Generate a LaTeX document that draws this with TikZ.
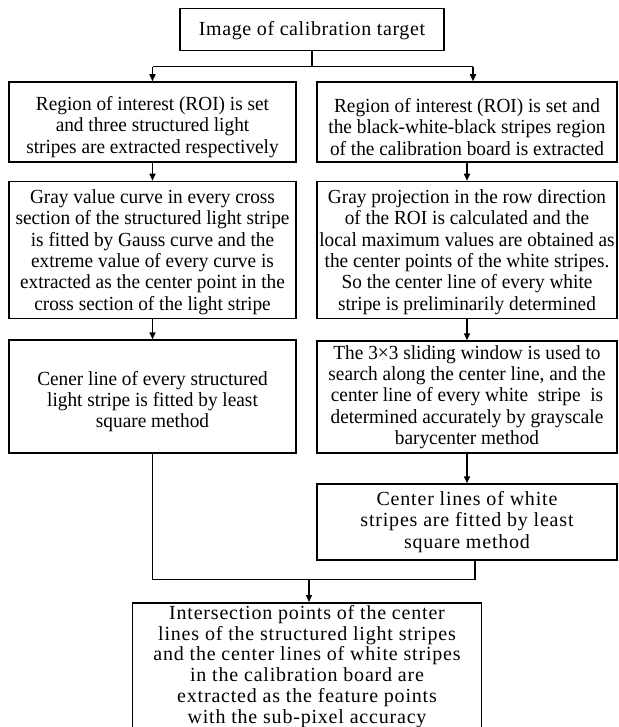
\documentclass[tikz,border=0pt]{standalone}
\usepackage{fontspec}
\setmainfont{Liberation Serif}
\usetikzlibrary{arrows.meta}
\newcommand\myfs{\fontsize{20}{21.3}\selectfont}
\newcommand\myfsb{\fontsize{20}{20.8}\selectfont}
\tikzset{
  frame/.style={draw, line width=1.5pt, inner sep=0pt},
  txt/.style={inner sep=0pt, align=center, font=\myfs\addfontfeatures{FakeStretch=0.965}},
  spaced/.style={inner sep=0pt, align=center, font=\myfs\addfontfeatures{LetterSpace=4}},
  conn/.style={line width=1.5pt},
  arr/.style={line width=1.5pt, -{Triangle[length=7pt,width=6pt]}},
}
\begin{document}
\begin{tikzpicture}[x=1pt,y=-1pt]
\useasboundingbox (0,0) rectangle (618,727);

% frames
\node[frame, minimum width=264pt, minimum height=42.4pt] (top) at (312,29.5) {};
\node[frame, minimum width=287pt, minimum height=80pt] (L1) at (152.5,122) {};
\node[frame, minimum width=300pt, minimum height=80pt] (R1) at (467,122) {};
\node[frame, minimum width=287pt, minimum height=137pt] (L2) at (152.5,250) {};
\node[frame, minimum width=300pt, minimum height=137pt] (R2) at (467,250) {};
\node[frame, minimum width=287pt, minimum height=113pt] (L3) at (152.5,396.5) {};
\node[frame, minimum width=300pt, minimum height=112pt] (R3) at (467,397) {};
\node[frame, minimum width=300pt, minimum height=76pt] (R4) at (467,522) {};
\node[frame, minimum width=349pt, minimum height=135pt, anchor=north] (B) at (307,602) {};

% texts
\node[spaced, font=\myfs\addfontfeatures{LetterSpace=3}] (topt) at ([yshift=-1pt]top.center) {Image of calibration target};
\node[txt] (L1t) at ([yshift=-5pt]L1.center)
  {Region of interest (ROI) is set\\and three structured light\\stripes are extracted respectively};
\node[txt] (R1t) at ([yshift=-5pt]R1.center)
  {Region of interest (ROI) is set and\\the black-white-black stripes region\\of the calibration board is extracted};
\node[txt] (L2t) at ([yshift=-2pt]L2.center)
  {Gray value curve in every cross\\section of the structured light stripe\\is fitted by Gauss curve and the\\extreme value of every curve is\\extracted as the center point in the\\cross section of the light stripe};
\node[txt] (R2t) at ([yshift=-2pt]R2.center)
  {Gray projection in the row direction\\of the ROI is calculated and the\\local maximum values are obtained as\\the center points of the white stripes.\\So the center line of every white\\stripe is preliminarily determined};
\node[txt] (L3t) at ([yshift=-5pt]L3.center)
  {Cener line of every structured\\light stripe is fitted by least\\square method};
\node[txt] (R3t) at (R3.center)
  {The 3×3 sliding window is used to\\search along the center line, and the\\center line of every white\ \ stripe\ \ is\\determined accurately by grayscale\\barycenter method};
\node[spaced] (R4t) at (R4.center)
  {Center lines of white\\stripes are fitted by least\\square method};
\node[spaced, font=\myfsb\addfontfeatures{LetterSpace=4}, anchor=north] (Bt) at ([yshift=-3pt]B.north)
  {Intersection points of the center\\lines of the structured light stripes\\and the center lines of white stripes\\in the calibration board are\\extracted as the feature points\\with the sub-pixel accuracy};

% split
\coordinate (sp) at (312,66.7);
\coordinate (spL) at (152.5,66.7);
\coordinate (spR) at (473,66.7);
\draw[conn] (top.south) -- (sp);
\draw[conn] (spL) -- (spR);
\draw[arr] (spL) -- (L1.north);
\draw[arr] (spR) -- (spR |- R1.north);

\draw[arr] (L1.south) -- (L2.north);
\draw[arr] (R1.south) -- (R2.north);
\draw[arr] (L2.south) -- (L3.north);
\draw[arr] (R2.south) -- (R3.north);
\draw[arr] (R3.south) -- (R4.north);

% join
\coordinate (jR) at (475,579.3);
\coordinate (jM) at (309,579.3);
\draw[conn] (L3.south) |- (jR) -- (jR |- R4.south);
\draw[arr] (jM) -- (jM |- B.north);
\end{tikzpicture}
\end{document}
